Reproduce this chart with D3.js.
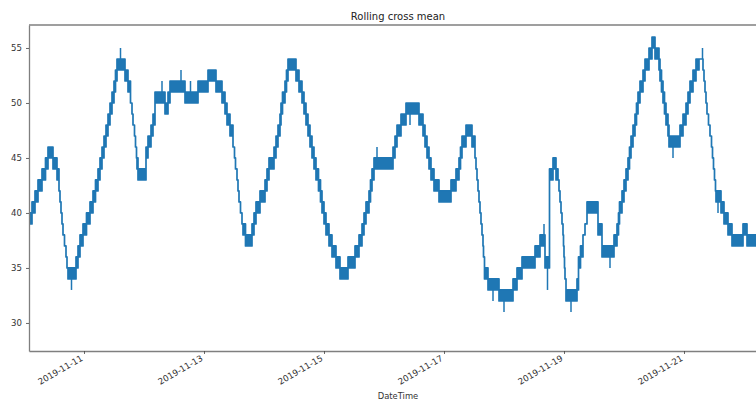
<!DOCTYPE html>
<html>
<head>
<meta charset="utf-8">
<script src="https://cdn.jsdelivr.net/npm/d3@7"></script>
<style>
	body { margin: 0; background: #fff; }
	svg { display: block; font-family: "DejaVu Sans", sans-serif; }
	.axis text { fill: #333; font-size: 8.6px; font-family: "DejaVu Sans", sans-serif; }
	.axis line { stroke: #444; stroke-width: 0.8; }
	.axis path.domain, .spine { stroke: #7f7f7f; stroke-width: 1.3; fill: none; }
</style>
</head>
<body>
<svg id="chart" width="756" height="401"></svg>
<script>
	'use strict';

	// hours since 2019-11-10 00:00, value (x.5 = signal flickering between x and x+1)
	var rollingMean = [
		[2.0, 39.5], [3.2, 40.5], [4.4, 41.5], [5.6, 42.5], [7.2, 43.5], [8.6, 44.5],
		[9.6, 45.5], [11.6, 44.5], [13.2, 43.5], [14.0, 42], [14.4, 41], [14.8, 40],
		[15.2, 39], [15.6, 38], [16.2, 37], [16.8, 36], [17.2, 35], [17.6, 34.5],
		[20.8, 35.5], [21.6, 36.5], [22.4, 37.5], [23.6, 38.5], [25.0, 39.5], [26.4, 40.5],
		[27.6, 41.5], [28.6, 42.5], [29.6, 43.5], [30.4, 44.5], [31.2, 45.5], [32.0, 46.5],
		[32.8, 47.5], [33.6, 48.5], [34.4, 49.5], [35.2, 50.5], [36.0, 51.5], [36.6, 52.5],
		[37.2, 53.5], [40.4, 52.5], [41.6, 51.5], [42.6, 50], [43.2, 49], [43.6, 48],
		[44.2, 47], [44.6, 46], [45.0, 45], [45.2, 44.5], [45.6, 43.5], [48.8, 45.5],
		[49.6, 46.5], [50.8, 47.5], [51.6, 48.5], [52.4, 50.5], [56.4, 49.5], [57.6, 50.5],
		[58.4, 51.5], [64.4, 50.5], [69.6, 51.5], [73.6, 52.5], [76.8, 51.5], [79.2, 50.5],
		[80.4, 49.5], [81.2, 48.5], [82.4, 47.5], [83.6, 46], [84.2, 45], [84.6, 44],
		[85.2, 43], [85.6, 42], [86.0, 41], [86.6, 40], [87.2, 39], [87.6, 38.5],
		[88.6, 37.5], [91.2, 38.5], [92.0, 39.5], [92.8, 40.5], [94.4, 41.5], [96.4, 42.5],
		[97.2, 43.5], [98.0, 44.5], [100.0, 45.5], [100.8, 46.5], [101.6, 47.5], [102.4, 48.5],
		[102.8, 49.5], [103.4, 50.5], [104.4, 51.5], [105.0, 52.5], [105.6, 53.5], [108.8, 52.5],
		[110.0, 51.5], [111.2, 50.5], [112.0, 49.5], [112.8, 48.5], [113.6, 47.5], [114.4, 46.5],
		[115.2, 45.5], [116.0, 44.5], [116.8, 43.5], [117.8, 42.5], [118.6, 41.5], [119.2, 40.5],
		[120.0, 39.5], [120.8, 38.5], [122.0, 37.5], [123.2, 36.5], [124.8, 35.5], [126.4, 34.5],
		[129.6, 35.5], [132.4, 36.5], [134.0, 37.5], [135.2, 38.5], [136.0, 39.5], [136.8, 40.5],
		[138.0, 41.5], [138.6, 42.5], [139.2, 43.5], [140.0, 44.5], [147.6, 45.5], [148.4, 46.5],
		[149.2, 47.5], [150.8, 48.5], [152.8, 49.5], [158.0, 48.5], [159.6, 47.5], [160.4, 46.5],
		[161.2, 45.5], [162.0, 44.5], [162.8, 43.5], [164.0, 42.5], [166.0, 41.5], [170.8, 42.5],
		[172.8, 43.5], [174.0, 44.5], [174.6, 45.5], [175.2, 46.5], [176.8, 47.5], [179.2, 46.5],
		[180.4, 45], [180.8, 44], [181.2, 43], [181.6, 42], [182.0, 41], [182.4, 40],
		[182.8, 39], [183.2, 38], [183.6, 37], [183.8, 36], [184.2, 34.5], [185.6, 33.5],
		[190.0, 32.5], [195.6, 33.5], [197.2, 34.5], [199.2, 35.5], [204.4, 36.5], [206.4, 37.5],
		[208.4, 35.5], [210.2, 43.5], [211.6, 44.5], [212.8, 43.5], [213.6, 43], [214.0, 42],
		[214.4, 41], [214.8, 40], [215.2, 39], [215.6, 38], [215.8, 37], [216.0, 36],
		[216.2, 35], [216.4, 34], [216.8, 32.5], [221.2, 33.5], [221.8, 35.5], [222.6, 36.5],
		[223.6, 38], [224.4, 39], [225.2, 40.5], [229.6, 38.5], [231.2, 36.5], [236.0, 37.5],
		[237.2, 38.5], [237.8, 39.5], [238.2, 40.5], [239.2, 41.5], [240.0, 42.5], [240.8, 43.5],
		[241.6, 44.5], [242.2, 45.5], [242.8, 46.5], [243.6, 47.5], [244.4, 48.5], [245.0, 49.5],
		[245.6, 50.5], [246.4, 51.5], [247.6, 52.5], [248.4, 53.5], [250.0, 54.5], [251.2, 55.5],
		[252.4, 54.5], [254.0, 53.5], [254.4, 52.5], [255.0, 51.5], [255.6, 50.5], [256.2, 49.5],
		[256.8, 48.5], [257.6, 47.5], [258.0, 46.5], [262.4, 47.5], [263.6, 48.5], [264.8, 49.5],
		[265.6, 50.5], [266.4, 51.5], [267.6, 52.5], [268.8, 53.5], [270.0, 54], [271.6, 53],
		[272.0, 52], [272.4, 51], [272.8, 50], [273.2, 49], [273.8, 48], [274.4, 47],
		[275.0, 46], [275.4, 45], [275.8, 44], [276.2, 43], [276.6, 42], [276.8, 41.5],
		[278.8, 40.5], [280.0, 39.5], [281.6, 38.5], [283.2, 37.5], [287.6, 38.5], [289.2, 37.5],
		[298.4, 37.5]
	];

	// single-sample excursions: hour, value reached
	var spikes = [
		[19.0, 33], [38.6, 55], [55.2, 52], [62.8, 53], [66.6, 52], [141.2, 46],
		[154.4, 48], [187.6, 32], [192.0, 31], [208.0, 39], [209.4, 33], [218.8, 31],
		[234.4, 35], [259.6, 45], [271.4, 55], [277.6, 40]
	];

	var yTicks = [30, 35, 40, 45, 50, 55];
	var xTickLabels = ['2019-11-11', '2019-11-13', '2019-11-15', '2019-11-17', '2019-11-19', '2019-11-21'];

	var plot = { left: 29, right: 767, top: 25, bottom: 351 },
		origin = Date.UTC(2019, 10, 10),
		lineColor = '#1f77b4';

	var toDate = function (h) { return new Date(origin + h * 3600e3); };
	var parseDay = d3.utcParse('%Y-%m-%d');

	var xScale = d3.scaleUtc().domain([toDate(2), toDate(297.2)]).range([plot.left, plot.right]),
		yScale = d3.scaleLinear().domain([27.45, 57.09]).range([plot.bottom, plot.top]);

	var svg = d3.select('#chart');

	svg.append('defs').append('clipPath')
		.attr('id', 'plot-clip')
		.append('rect')
		.attr('x', plot.left)
		.attr('y', plot.top)
		.attr('width', plot.right - plot.left)
		.attr('height', plot.bottom - plot.top);

	var g = svg.append('g').attr('clip-path', 'url(#plot-clip)');

	var band = d3.area()
		.curve(d3.curveStepAfter)
		.x(function (d) { return xScale(toDate(d[0])); })
		.y0(function (d) { return yScale(Math.floor(d[1])); })
		.y1(function (d) { return yScale(Math.ceil(d[1])); });

	g.append('path')
		.datum(rollingMean)
		.attr('d', band)
		.attr('fill', lineColor)
		.attr('stroke', lineColor)
		.attr('stroke-width', 1.7)
		.attr('stroke-linejoin', 'round');

	var bisect = d3.bisector(function (d) { return d[0]; }).right;

	g.selectAll('line.spike')
		.data(spikes)
		.enter().append('line')
		.attr('class', 'spike')
		.attr('x1', function (d) { return xScale(toDate(d[0])); })
		.attr('x2', function (d) { return xScale(toDate(d[0])); })
		.attr('y1', function (d) { return yScale(d[1]); })
		.attr('y2', function (d) {
			var v = rollingMean[bisect(rollingMean, d[0]) - 1][1];
			return yScale(d[1] > v ? Math.ceil(v) : Math.floor(v));
		})
		.attr('stroke', lineColor)
		.attr('stroke-width', 1.5);

	// AXES
	svg.append('g')
		.attr('class', 'axis axis-left')
		.attr('transform', 'translate(' + plot.left + ',0)')
		.call(d3.axisLeft(yScale).tickValues(yTicks).tickSize(3).tickSizeOuter(0).tickPadding(4));

	var xAxis = svg.append('g')
		.attr('class', 'axis axis-bottom')
		.attr('transform', 'translate(0,' + plot.bottom + ')')
		.call(d3.axisBottom(xScale)
			.tickValues(xTickLabels.map(parseDay))
			.tickFormat(d3.utcFormat('%Y-%m-%d'))
			.tickSize(3).tickSizeOuter(0));

	xAxis.selectAll('.tick text')
		.attr('text-anchor', 'end')
		.attr('dy', null)
		.attr('y', null)
		.attr('transform', 'translate(-1,9) rotate(-30)');

	svg.append('line')
		.attr('class', 'spine')
		.attr('x1', plot.left).attr('x2', plot.right)
		.attr('y1', plot.top).attr('y2', plot.top);

	svg.append('text')
		.attr('x', (plot.left + plot.right) / 2)
		.attr('y', 19.5)
		.attr('text-anchor', 'middle')
		.attr('font-size', 10)
		.attr('fill', '#222')
		.text('Rolling cross mean');

	svg.append('text')
		.attr('x', (plot.left + plot.right) / 2)
		.attr('y', 398.5)
		.attr('text-anchor', 'middle')
		.attr('font-size', 8.4)
		.attr('fill', '#333')
		.text('DateTime');
</script>
</body>
</html>
